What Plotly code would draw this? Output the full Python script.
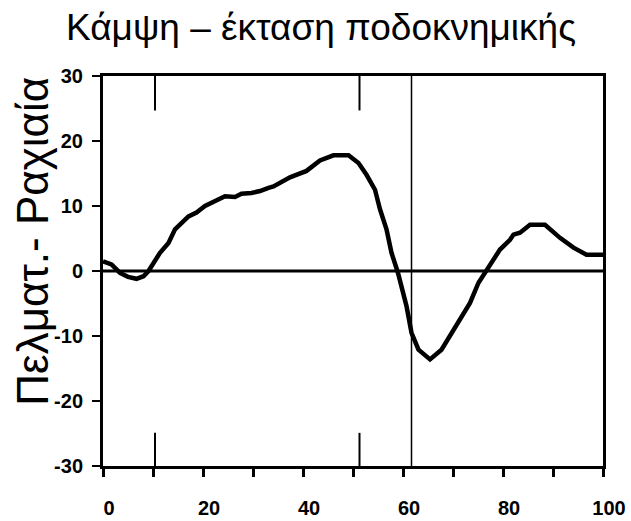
import plotly.graph_objects as go

# Ankle flexion/extension over the gait cycle (% cycle vs degrees)
cycle_pct = [0, 0.4, 1.7, 3.4, 5.0, 6.7, 8.1, 9.1, 11.4, 13.1, 14.4, 17.1, 18.7,
             20.4, 22.4, 24.4, 26.4, 27.7, 29.7, 31.4, 33.1, 34.1, 37.4, 40.7,
             43.4, 46.1, 49.1, 51.1, 52.7, 54.4, 55.4, 56.7, 57.7, 59.0, 60.7,
             61.7, 63.1, 65.4, 67.7, 69.7, 71.7, 73.4, 75.1, 76.4, 78.1, 79.4,
             81.4, 82.1, 83.4, 85.4, 88.4, 91.4, 94.1, 96.7, 99.4, 100]
angle_deg = [1.5, 1.4, 1.0, -0.3, -0.9, -1.2, -0.8, 0.0, 2.8, 4.3, 6.4, 8.4, 9.0,
             10.0, 10.7, 11.5, 11.4, 11.9, 12.0, 12.3, 12.8, 13.0, 14.4, 15.4,
             17.0, 17.8, 17.8, 16.6, 14.8, 12.5, 9.5, 6.4, 2.8, -0.3, -5.4,
             -9.5, -12.1, -13.6, -12.1, -9.5, -7.0, -4.9, -1.8, -0.3, 1.8, 3.3,
             4.8, 5.6, 5.9, 7.1, 7.1, 5.1, 3.6, 2.5, 2.5, 2.5]

# Phase markers (short ticks at top and bottom) and toe-off line
phase_marks = [10.4, 51.3]
toe_off = 61.7

x_ticks = [0, 10, 20, 30, 40, 50, 60, 70, 80, 90, 100]
x_tick_text = ["0", "", "20", "", "40", "", "60", "", "80", "", "100"]
y_ticks = [-30, -20, -10, 0, 10, 20, 30]
y_tick_text = ["-30", "-20", "-10", "0", "10", "20", "30"]

title_text = "Κάμψη – έκταση ποδοκνημικής"
y_title = "Πελματ.- Ραχιαία"

FONT = "Liberation Sans, Arial, sans-serif"

fig = go.Figure()

fig.add_trace(go.Scatter(
    x=cycle_pct, y=angle_deg, mode="lines",
    line=dict(color="black", width=4.5),
    hoverinfo="skip", showlegend=False,
))

shapes = [
    # zero reference line
    dict(type="line", xref="x", yref="y", x0=0, x1=100, y0=0, y1=0,
         line=dict(color="black", width=3)),
    # toe-off line
    dict(type="line", xref="x", yref="y", x0=toe_off, x1=toe_off, y0=-30, y1=30,
         line=dict(color="black", width=1.5)),
]
for xm in phase_marks:
    shapes.append(dict(type="line", xref="x", yref="y", x0=xm, x1=xm, y0=30, y1=24.7,
                       line=dict(color="black", width=2)))
    shapes.append(dict(type="line", xref="x", yref="y", x0=xm, x1=xm, y0=-30, y1=-24.9,
                       line=dict(color="black", width=2)))

fig.update_layout(
    width=631, height=521,
    margin=dict(l=103, r=28, t=76, b=55, autoexpand=False),
    paper_bgcolor="white", plot_bgcolor="white",
    shapes=shapes,
    font=dict(family=FONT, color="black"),
    annotations=[
        dict(text=title_text, xref="paper", yref="paper", x=0.435, y=1.0,
             yshift=49, xanchor="center", yanchor="middle", showarrow=False,
             font=dict(size=37, family=FONT)),
        dict(text=y_title, xref="paper", yref="paper", x=0, xshift=-70,
             y=0.575, textangle=-90, xanchor="center", yanchor="middle",
             showarrow=False, font=dict(size=44, family=FONT)),
    ],
)

fig.update_xaxes(
    range=[0, 100], tickmode="array", tickvals=x_ticks, ticktext=x_tick_text,
    ticks="outside", ticklen=8, tickwidth=3, tickcolor="black",
    showline=True, linewidth=3, linecolor="black", mirror=True,
    showgrid=False, zeroline=False, automargin=False,
    ticklabelshift=6, ticklabelstandoff=14,
    tickfont=dict(size=20, family=FONT, weight="bold"),
)
fig.update_yaxes(
    range=[-30, 30], tickmode="array", tickvals=y_ticks, ticktext=y_tick_text,
    ticks="outside", ticklen=8, tickwidth=2, tickcolor="black",
    showline=True, linewidth=3, linecolor="black", mirror=True,
    showgrid=False, zeroline=False, automargin=False, ticklabelstandoff=5,
    tickfont=dict(size=20, family=FONT, weight="bold"),
)

fig.write_html("out.html")
